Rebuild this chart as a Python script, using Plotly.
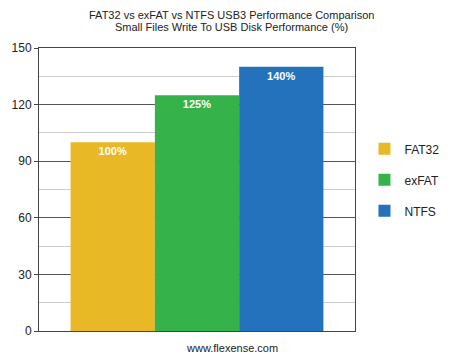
import plotly.graph_objects as go

series = ["FAT32", "exFAT", "NTFS"]
values = [100, 125, 140]
labels = ["100%", "125%", "140%"]
colors = ["#E8B826", "#35B34A", "#2472BC"]
category = ["Small Files Write"]
title_lines = ["FAT32 vs exFAT vs NTFS USB3 Performance Comparison",
               "Small Files Write To USB Disk Performance (%)"]

fig = go.Figure()
for i, (name, v, lab, c) in enumerate(zip(series, values, labels, colors)):
    fig.add_trace(go.Bar(
        x=category, y=[v], name=name, text=[lab],
        marker=dict(color=c, line=dict(width=0)),
        textposition="inside", insidetextanchor="end",
        textfont=dict(color="white", size=11, family="Liberation Sans, Arial, sans-serif"),
        texttemplate="<b>%{text}</b>",
        legendgroup=name,
    ))

annotations = []
for line, shift in zip(title_lines, [33, 21]):
    annotations.append(dict(
        text=line, xref="paper", yref="paper", x=0.609, y=1,
        xanchor="center", yanchor="middle", yshift=shift,
        showarrow=False, font=dict(size=11, color="#222"),
    ))
annotations.append(dict(
    text="www.flexense.com", xref="paper", yref="paper",
    x=0.61, y=0, xanchor="center", yanchor="top", yshift=-9,
    showarrow=False, font=dict(size=11, color="#222"),
))

fig.update_layout(
    width=460, height=356,
    margin=dict(l=35, r=105, t=48, b=25),
    paper_bgcolor="white", plot_bgcolor="white",
    barmode="group", bargap=0.2, bargroupgap=0,
    font=dict(family="Liberation Sans, Arial, sans-serif", size=12, color="#222"),
    showlegend=True,
    legend=dict(
        x=1.03, xanchor="left", y=0.695, yanchor="top",
        tracegroupgap=12, font=dict(size=12, color="#222"),
        bgcolor="rgba(0,0,0,0)",
    ),
    xaxis=dict(showticklabels=False, showline=True, linecolor="#444", linewidth=1,
               mirror=True, showgrid=False, ticks=""),
    yaxis=dict(range=[0, 150], tickvals=[0, 30, 60, 90, 120, 150],
               showline=True, linecolor="#444", linewidth=1, mirror=True,
               showgrid=True, gridcolor="#555", gridwidth=1,
               ticks="outside", ticklen=4, tickcolor="#444",
               tickfont=dict(size=12, color="#222"),
               minor=dict(tickvals=[15, 45, 75, 105, 135], showgrid=True,
                          gridcolor="#cccccc", gridwidth=1, ticks=""),
               zeroline=False),
    annotations=annotations,
)

fig.write_html("out.html", config={"displayModeBar": False},
               post_script="document.body.style.margin='0';document.body.style.overflow='hidden';")
